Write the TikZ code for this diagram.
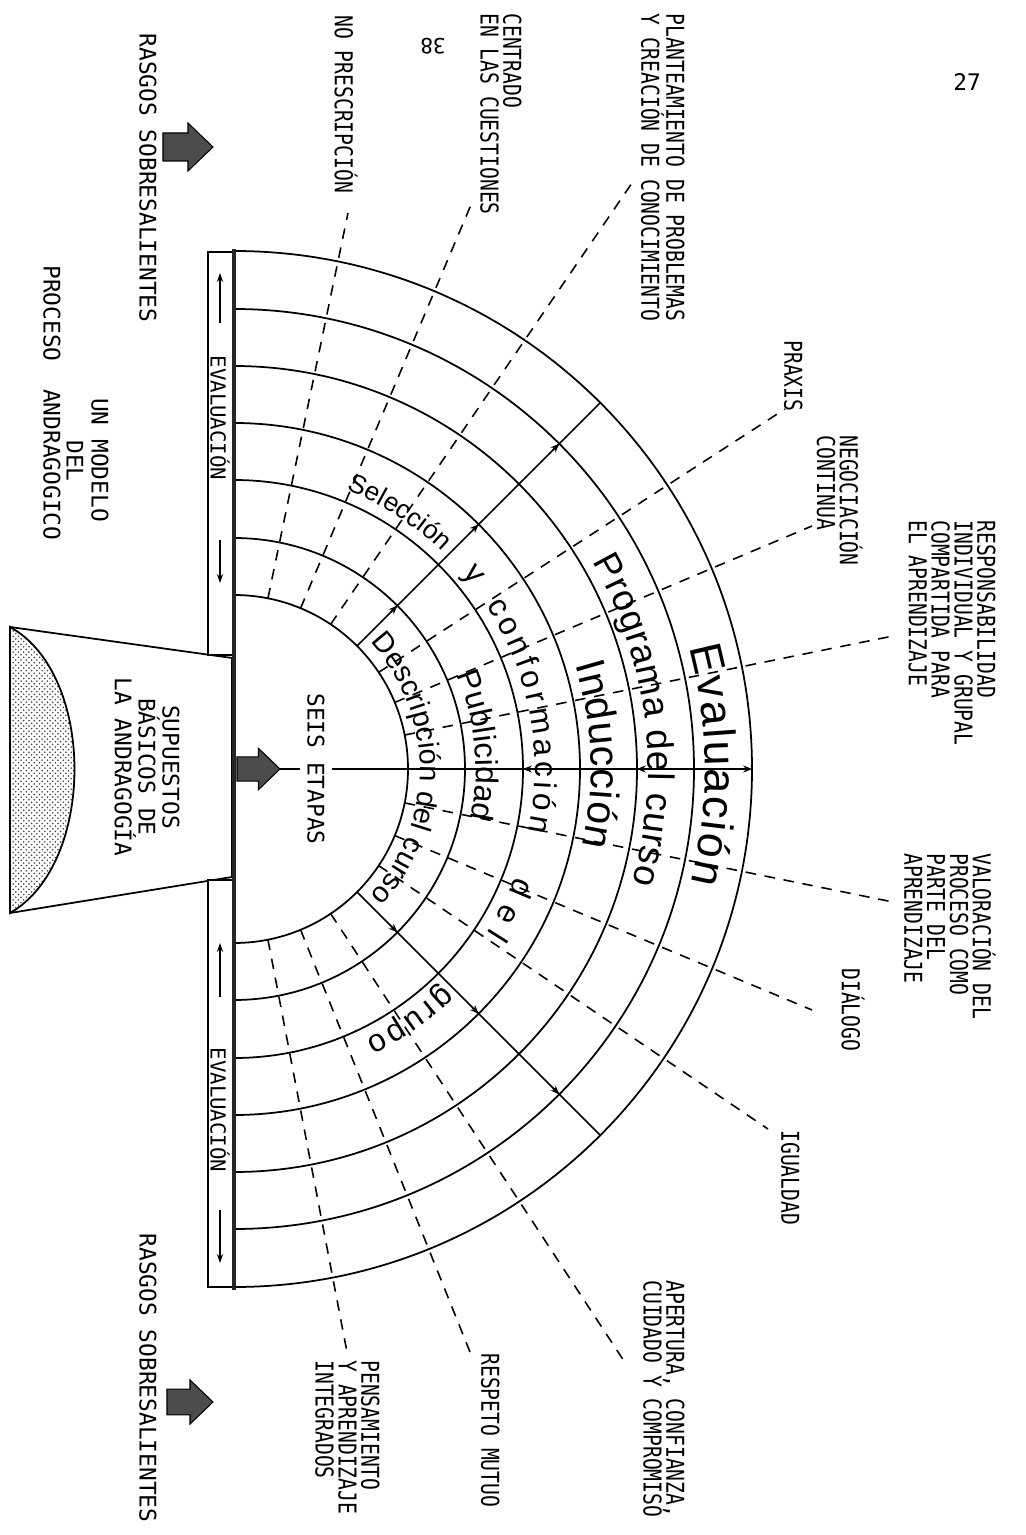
\documentclass[tikz,border=0pt]{standalone}
\usepackage{fontspec}
\usepackage{tikz}
\usetikzlibrary{arrows.meta,decorations.text,patterns}
\newfontfamily\ringfont{Liberation Sans}
\newfontfamily\tagfont{DejaVu Sans Mono}[FakeStretch=0.8]
\newfontfamily\capfont{DejaVu Sans Mono}

\newcommand{\ringword}[5]{\path[decorate,decoration={text along path,text align=fit to path,
  text={|\ringfont\fontsize{#4}{#4}\selectfont|#5}}] (#2:#1) arc[start angle=#2,end angle=#3,radius=#1];}

\begin{document}
\begin{tikzpicture}[x=0.02cm,y=0.02cm,
  ring/.style={line width=1pt},
  guide/.style={line width=0.9pt,dash pattern=on 6pt off 5pt},
  tip/.style={line width=0.9pt,-{Stealth[length=5pt,width=4pt]}},
  tag/.style={font=\tagfont\fontsize{14pt}{13pt}\selectfont,rotate=-90,anchor=north west,align=left,inner sep=0pt},
  caption/.style={font=\capfont\fontsize{13pt}{13.6pt}\selectfont,rotate=-90,align=center,inner sep=0pt},
  bar/.style={draw,line width=0.8pt,fill=white},
  flow/.style={line width=0.7pt,-{Stealth[length=5pt,width=3.5pt]}},
  bigarrow/.pic={\draw[fill=black!70,line width=0.6pt] (0,-14) -- (25,-14) -- (25,-24) -- (50,0) -- (25,24) -- (25,14) -- (0,14) -- cycle;}
]
\useasboundingbox (-234,-766) rectangle (792,769);

\draw[line width=1pt,fill=white] (-224,142) -- (-2,111) -- (-2,-108) -- (-224,-144) -- cycle;
\draw[line width=1pt,pattern=crosshatch dots,pattern color=black!75] (-224,142) .. controls (-138,95) and (-138,-95) .. (-224,-144) -- cycle;
\node[caption] (supuestos) at (-87,2) {SUPUESTOS\\BÁSICOS DE\\LA ANDRAGOGÍA};

\draw[bar] (-26,517) rectangle (0,114);
\draw[bar] (-26,-111) rectangle (0,-518);
\draw[flow] (-14,446) -- (-14,496);
\draw[flow] (-14,229) -- (-14,186);
\draw[flow] (-14,-228) -- (-14,-174);
\draw[flow] (-14,-441) -- (-14,-494);
\node[caption,font=\capfont\fontsize{11.8pt}{12pt}\selectfont] (evaltop) at (-14,351) {EVALUACIÓN};
\node[caption,font=\capfont\fontsize{11.8pt}{12pt}\selectfont] (evalbot) at (-14,-341) {EVALUACIÓN};

\foreach \r in {174,231,289,346,403,460,518}
  \draw[ring] (90:\r) arc[start angle=90,end angle=-90,radius=\r];
\draw[line width=2.2pt,black!85] (0,520) -- (0,-521);

\draw[ring] (45:174) -- (45:518);
\draw[ring] (-45:174) -- (-45:518);
\foreach \r in {231,346,460} {
  \draw[tip] (45:{\r-9}) -- (45:\r);
  \draw[tip] (-45:{\r-9}) -- (-45:\r);
}

\pic[scale=0.86] at (3,0) {bigarrow};
\coordinate (hubtip) at (46,0);
\node[caption,inner sep=4pt] (etapas) at (82,0) {SEIS ETAPAS};
\draw[line width=0.9pt] (hubtip) -- (etapas.south);
\draw[tip] (etapas.north) -- (0:518);
\foreach \r in {289,403}
  \draw[tip] ({\r+9},0) -- (\r,0);

\foreach \a/\ox/\oy/\n in {78.75/114/556/nopres, 67.5/239/569/centrado, 56.25/398/586/plant,
  33.75/551/360/praxis, 22.5/578/243/negoc, 11.25/659/133/resp,
  -11.25/659/-133/valor, -22.5/578/-241/dialogo, -33.75/534/-360/igual,
  -56.25/390/-592/apert, -67.5/236/-583/respeto, -78.75/113/-583/pensam}
{
  \coordinate (\n-in) at (\a:174);
  \coordinate (\n-out) at (\ox,\oy);
  \draw[guide] (\n-in) -- (\n-out);
}

\ringword{186}{43}{-43}{16.5pt}{Descripción del curso}
\ringword{242}{23}{-12}{18pt}{Publicidad}
\ringword{301}{68}{46.5}{15pt}{Selección}
\path[decorate,decoration={text along path,text align=center,
  text={|\ringfont\fontsize{18pt}{18pt}\selectfont|y}}] (43:301) arc[start angle=43,end angle=35,radius=301];
\ringword{301}{33}{-12}{18pt}{conformación}
\ringword{301}{-21}{-33}{18pt}{del}
\ringword{301}{-46}{-64}{18pt}{grupo}
\ringword{357}{17}{-12.5}{23.5pt}{Inducción}
\ringword{414}{30}{-16}{21pt}{Programa del curso}
\ringword{471}{15}{-14}{25.5pt}{Evaluación}

\node[tag] (nopresc) at (124,754) {NO PRESCRIPCIÓN};
\node[tag] (centr) at (288,756) {CENTRADO\\EN LAS CUESTIONES};
\node[tag] (plante) at (451,756) {PLANTEAMIENTO DE PROBLEMAS\\Y CREACIÓN DE CONOCIMIENTO};
\node[tag] (prax) at (569,429) {PRAXIS};
\node[tag] (negoci) at (629,334) {NEGOCIACIÓN\\CONTINUA};
\node[tag] (respons) at (762,249) {RESPONSABILIDAD\\INDIVIDUAL Y GRUPAL\\COMPARTIDA PARA\\EL APRENDIZAJE};
\node[tag] (valora) at (762,-84) {VALORACIÓN DEL\\PROCESO COMO\\PARTE DEL\\APRENDIZAJE};
\node[tag] (dialog) at (631,-199) {DIÁLOGO};
\node[tag] (iguald) at (566,-361) {IGUALDAD};
\node[tag] (apertu) at (451,-511) {APERTURA, CONFIANZA,\\CUIDADO Y COMPROMISO};
\node[tag] (respet) at (266,-584) {RESPETO MUTUO};
\node[tag] (pensa) at (146,-591) {PENSAMIENTO\\Y APRENDIZAJE\\INTEGRADOS};

\pic at (-71,622) {bigarrow};
\pic[scale=0.92] at (-67,-633) {bigarrow};
\node[caption] (rasgostop) at (-86,591) {RASGOS SOBRESALIENTES};
\node[caption] (rasgosbot) at (-86,-609) {RASGOS SOBRESALIENTES};
\node[caption] (modelo) at (-134,309) {UN MODELO};
\node[caption] (del) at (-159,308) {DEL};
\node[caption] (proceso) at (-182,366) {PROCESO\ \ ANDRAGOGICO};

\node[font=\capfont\fontsize{13pt}{13pt}\selectfont,inner sep=0pt] (pag) at (733,687) {27};
\node[font=\capfont\fontsize{12pt}{12pt}\selectfont,inner sep=0pt,rotate=180] (back) at (199,723) {38};
\end{tikzpicture}
\end{document}
